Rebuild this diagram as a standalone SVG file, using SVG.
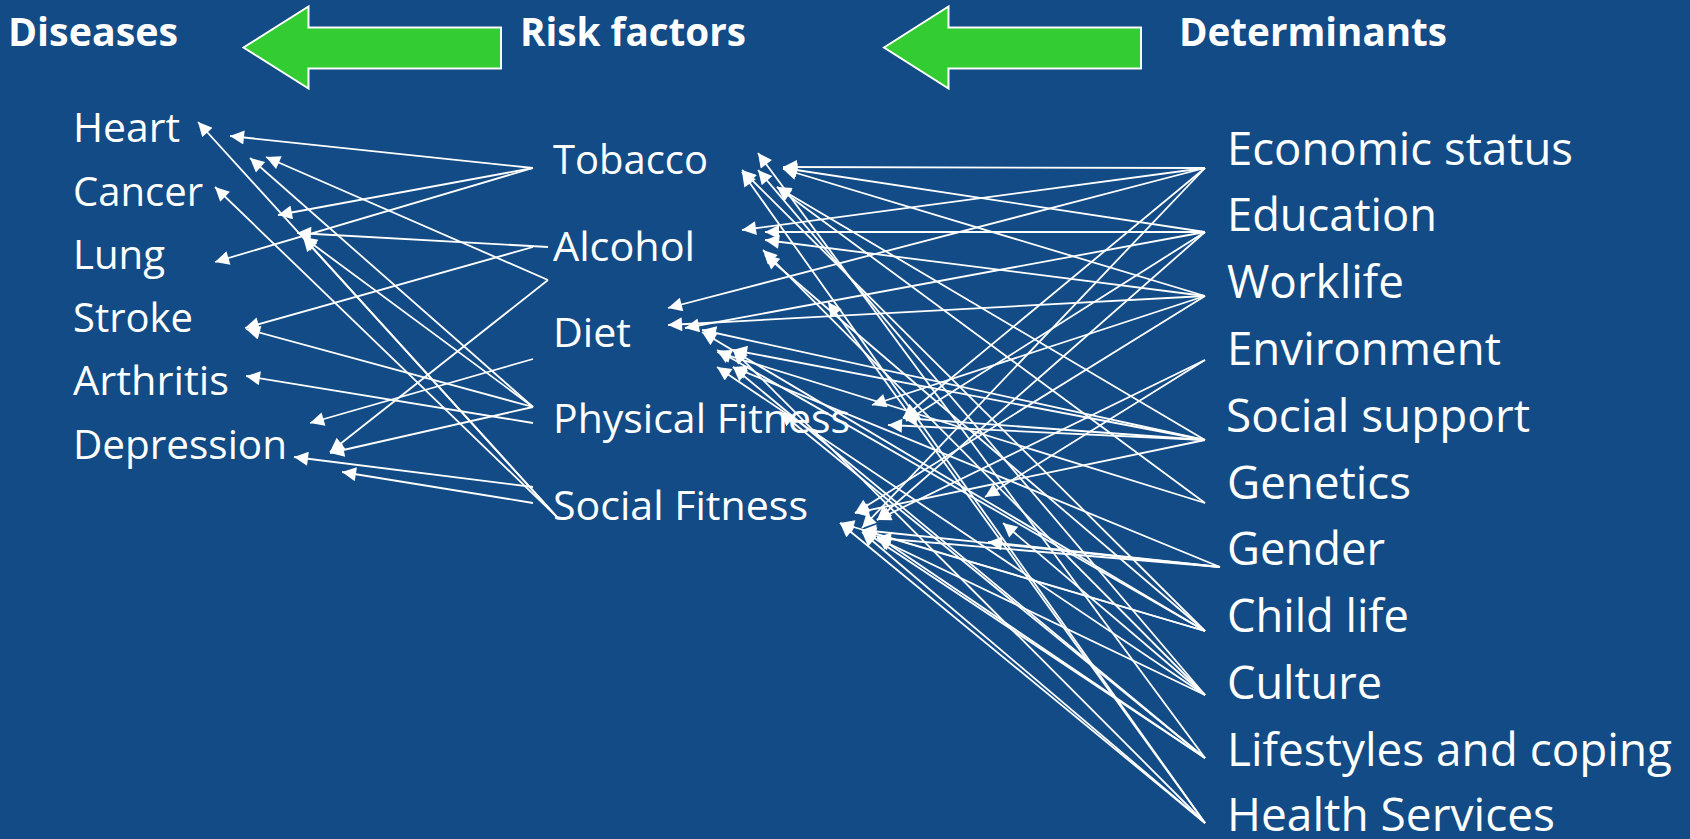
<svg xmlns="http://www.w3.org/2000/svg" width="1690" height="839" viewBox="0 0 1690 839">
<defs>
<style>
.bg{fill:#124B85}
.hdr{font-family:"Open Sans","Liberation Sans",sans-serif;font-weight:bold;font-size:40px;fill:#fff}
.dis{font-family:"Open Sans","Liberation Sans",sans-serif;font-size:40px;fill:#fff}
.rf{font-family:"Open Sans","Liberation Sans",sans-serif;font-size:40.5px;fill:#fff}
.det{font-family:"Open Sans","Liberation Sans",sans-serif;font-size:46px;fill:#fff}
.big{fill:#33CC33;stroke:#fff;stroke-width:2}
#connectors line{stroke:#fff;stroke-width:1.8;marker-end:url(#ah)}
</style>
<marker id="ah" viewBox="0 0 10 10" refX="10" refY="5" markerWidth="16" markerHeight="14" markerUnits="userSpaceOnUse" orient="auto"><path d="M0,0 L10,5 L0,10 z" fill="#fff"/></marker>
</defs>
<rect class="bg" x="0" y="0" width="1690" height="839"/>

<g id="header-diseases"><text class="hdr" x="8" y="45.5" textLength="170" lengthAdjust="spacingAndGlyphs">Diseases</text></g>
<g id="header-riskfactors"><text class="hdr" x="520" y="45.5" textLength="226" lengthAdjust="spacingAndGlyphs">Risk factors</text></g>
<g id="header-determinants"><text class="hdr" x="1179" y="45.5" textLength="268" lengthAdjust="spacingAndGlyphs">Determinants</text></g>
<g id="big-arrow-1"><polygon class="big" points="243.5,47.5 308.5,6.5 308.5,27.5 501,27.5 501,68.5 308.5,68.5 308.5,88.5"/></g>
<g id="big-arrow-2"><polygon class="big" points="884,47.5 948.5,6.5 948.5,27.5 1141,27.5 1141,68.5 948.5,68.5 948.5,88.5"/></g>

<g id="heart"><text class="dis" x="73" y="141.5" textLength="107" lengthAdjust="spacingAndGlyphs">Heart</text></g>
<g id="cancer"><text class="dis" x="73" y="205.5" textLength="130" lengthAdjust="spacingAndGlyphs">Cancer</text></g>
<g id="lung"><text class="dis" x="73" y="268.5" textLength="92" lengthAdjust="spacingAndGlyphs">Lung</text></g>
<g id="stroke"><text class="dis" x="73" y="331.5" textLength="120" lengthAdjust="spacingAndGlyphs">Stroke</text></g>
<g id="arthritis"><text class="dis" x="73" y="395" textLength="156" lengthAdjust="spacingAndGlyphs">Arthritis</text></g>
<g id="depression"><text class="dis" x="73" y="458.5" textLength="214" lengthAdjust="spacingAndGlyphs">Depression</text></g>

<g id="tobacco"><text class="rf" x="553" y="174" textLength="155" lengthAdjust="spacingAndGlyphs">Tobacco</text></g>
<g id="alcohol"><text class="rf" x="553" y="260.5" textLength="142" lengthAdjust="spacingAndGlyphs">Alcohol</text></g>
<g id="diet"><text class="rf" x="553" y="346.5" textLength="78" lengthAdjust="spacingAndGlyphs">Diet</text></g>
<g id="physical-fitness"><text class="rf" x="553" y="433.3" textLength="297" lengthAdjust="spacingAndGlyphs">Physical Fitness</text></g>
<g id="social-fitness"><text class="rf" x="553" y="519.5" textLength="255" lengthAdjust="spacingAndGlyphs">Social Fitness</text></g>

<g id="economic-status"><text class="det" x="1227" y="164.5" textLength="346" lengthAdjust="spacingAndGlyphs">Economic status</text></g>
<g id="education"><text class="det" x="1227" y="231.3" textLength="210" lengthAdjust="spacingAndGlyphs">Education</text></g>
<g id="worklife"><text class="det" x="1227" y="298.1" textLength="177" lengthAdjust="spacingAndGlyphs">Worklife</text></g>
<g id="environment"><text class="det" x="1227" y="364.9" textLength="274" lengthAdjust="spacingAndGlyphs">Environment</text></g>
<g id="social-support"><text class="det" x="1226" y="431.7" textLength="304" lengthAdjust="spacingAndGlyphs">Social support</text></g>
<g id="genetics"><text class="det" x="1227" y="498.5" textLength="184" lengthAdjust="spacingAndGlyphs">Genetics</text></g>
<g id="gender"><text class="det" x="1227" y="565.3" textLength="158" lengthAdjust="spacingAndGlyphs">Gender</text></g>
<g id="child-life"><text class="det" x="1227" y="632.1" textLength="182" lengthAdjust="spacingAndGlyphs">Child life</text></g>
<g id="culture"><text class="det" x="1227" y="698.9" textLength="155" lengthAdjust="spacingAndGlyphs">Culture</text></g>
<g id="lifestyles"><text class="det" x="1227" y="765.7" textLength="445" lengthAdjust="spacingAndGlyphs">Lifestyles and coping</text></g>
<g id="health-services"><text class="det" x="1227" y="831" textLength="328" lengthAdjust="spacingAndGlyphs">Health Services</text></g>

<g id="connectors">
<line x1="533" y1="168" x2="230" y2="136"/>
<line x1="533" y1="168" x2="278" y2="215"/>
<line x1="533" y1="168" x2="215" y2="262"/>
<line x1="548" y1="247" x2="297" y2="233"/>
<line x1="533" y1="247" x2="245" y2="328"/>
<line x1="548" y1="280" x2="266" y2="157"/>
<line x1="548" y1="280" x2="330" y2="452"/>
<line x1="533" y1="407" x2="250" y2="158"/>
<line x1="533" y1="407" x2="303" y2="237"/>
<line x1="533" y1="407" x2="246" y2="329"/>
<line x1="533" y1="407" x2="330" y2="453"/>
<line x1="533" y1="359" x2="310" y2="423"/>
<line x1="533" y1="423" x2="246" y2="376"/>
<line x1="533" y1="487" x2="294" y2="457"/>
<line x1="533" y1="503" x2="342" y2="472"/>
<line x1="557" y1="517" x2="198" y2="122"/>
<line x1="557" y1="517" x2="215" y2="187"/>
<line x1="557" y1="517" x2="303" y2="237"/>
<line x1="1205" y1="168" x2="783" y2="167"/>
<line x1="1205" y1="168" x2="742" y2="230"/>
<line x1="1205" y1="168" x2="668" y2="308"/>
<line x1="1205" y1="168" x2="903" y2="418"/>
<line x1="1205" y1="168" x2="862" y2="528"/>
<line x1="1205" y1="232" x2="783" y2="168"/>
<line x1="1205" y1="232" x2="765" y2="232"/>
<line x1="1205" y1="232" x2="685" y2="328"/>
<line x1="1205" y1="232" x2="906" y2="421"/>
<line x1="1205" y1="232" x2="877" y2="520"/>
<line x1="1205" y1="296" x2="783" y2="169"/>
<line x1="1205" y1="296" x2="765" y2="240"/>
<line x1="1205" y1="296" x2="668" y2="325"/>
<line x1="1205" y1="296" x2="872" y2="405"/>
<line x1="1205" y1="296" x2="855" y2="513"/>
<line x1="1205" y1="360" x2="985" y2="497"/>
<line x1="1205" y1="360" x2="877" y2="520"/>
<line x1="1205" y1="440" x2="777" y2="187"/>
<line x1="1205" y1="440" x2="702" y2="330"/>
<line x1="1205" y1="440" x2="733" y2="350"/>
<line x1="1205" y1="440" x2="888" y2="425"/>
<line x1="1205" y1="440" x2="903" y2="418"/>
<line x1="1205" y1="440" x2="855" y2="513"/>
<line x1="1205" y1="503" x2="777" y2="187"/>
<line x1="1205" y1="503" x2="717" y2="352"/>
<line x1="1220" y1="567" x2="877" y2="538"/>
<line x1="1220" y1="567" x2="988" y2="542"/>
<line x1="1220" y1="567" x2="733" y2="367"/>
<line x1="1220" y1="567" x2="862" y2="530"/>
<line x1="1205" y1="631" x2="742" y2="170"/>
<line x1="1205" y1="631" x2="765" y2="255"/>
<line x1="1205" y1="631" x2="717" y2="350"/>
<line x1="1205" y1="631" x2="840" y2="523"/>
<line x1="1205" y1="631" x2="862" y2="530"/>
<line x1="1205" y1="631" x2="702" y2="332"/>
<line x1="1205" y1="695" x2="758" y2="170"/>
<line x1="1205" y1="695" x2="763" y2="250"/>
<line x1="1205" y1="695" x2="717" y2="367"/>
<line x1="1205" y1="695" x2="1003" y2="523"/>
<line x1="1205" y1="695" x2="877" y2="538"/>
<line x1="1205" y1="758" x2="758" y2="153"/>
<line x1="1205" y1="758" x2="733" y2="367"/>
<line x1="1205" y1="758" x2="780" y2="412"/>
<line x1="1205" y1="758" x2="862" y2="530"/>
<line x1="1205" y1="758" x2="877" y2="536"/>
<line x1="1205" y1="823" x2="742" y2="172"/>
<line x1="1205" y1="823" x2="828" y2="302"/>
<line x1="1205" y1="823" x2="733" y2="350"/>
<line x1="1205" y1="823" x2="862" y2="532"/>
<line x1="1205" y1="823" x2="840" y2="523"/>
</g>
</svg>
